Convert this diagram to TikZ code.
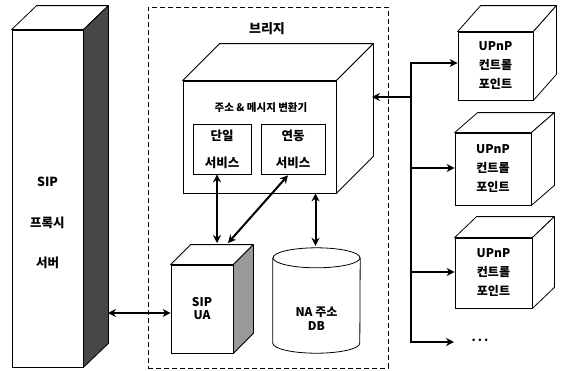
\documentclass[tikz,border=0pt]{standalone}
\usepackage{fontspec}
\setmainfont{Noto Sans CJK KR}
\usetikzlibrary{calc,arrows.meta}
\newcommand\cubefaces[4]{%
  \draw[line width=0.8pt, fill=white, line join=round] (#1.north west) -- ++(#2,#3) -- ($(#1.north east)+(#2,#3)$) -- (#1.north east) -- cycle;
  \draw[line width=0.8pt, fill=#4, line join=round] (#1.north east) -- ++(#2,#3) -- ($(#1.south east)+(#2,#3)$) -- (#1.south east) -- cycle;}
\begin{document}
\begin{tikzpicture}[x=1pt,y=-1pt,
  face/.style={draw, line width=0.8pt, fill=white, inner sep=0pt},
  inbox/.style={draw, line width=0.6pt, inner sep=0pt, minimum height=50pt, align=center,
     font=\bfseries\fontsize{12.5}{27}\selectfont},
  arr/.style={line width=2pt, -{Stealth[length=8pt,width=8pt]}},
  darr/.style={line width=2pt, {Stealth[length=8pt,width=8pt]}-{Stealth[length=8pt,width=8pt]}},
  bus/.style={line width=2.6pt, -{Stealth[length=8pt,width=8pt]}, line join=miter},
  lbl/.style={align=center, inner sep=0pt},
  upnp/.style={face, align=center, font=\bfseries\fontsize{12}{19}\selectfont}]
\useasboundingbox (0,0) rectangle (565,370);

% bridge dashed frame
\node[draw, dash pattern=on 5pt off 3pt, line width=1pt, minimum width=240pt, minimum height=361pt, inner sep=0pt] (bridge) at (268,187.5) {};
\node[lbl, font=\bfseries\fontsize{13}{14}\selectfont] (bridgelbl) at (267,29) {브리지};

% SIP proxy server
\node[face, minimum width=71pt, minimum height=337pt] (sip) at (47.5,198.5) {};
\cubefaces{sip}{25}{-24}{black!72}
\node[lbl, font=\bfseries\fontsize{12.5}{40.5}\selectfont] (siptxt) at (47.5,223) {SIP\\프록시\\서버};

% converter
\node[face, minimum width=153pt, minimum height=112pt] (conv) at (259.5,137) {};
\cubefaces{conv}{37}{-37}{white}
\node[lbl, font=\bfseries\fontsize{10.5}{12}\selectfont] (convtitle) at (261,108) {주소 \& 메시지 변환기};
\node[inbox, minimum width=58pt] (b1) at (222,149) {단일\\서비스};
\node[inbox, minimum width=64pt] (b2) at (293,149) {연동\\서비스};

% SIP UA
\node[face, minimum width=62pt, minimum height=88pt, align=center,
      font=\bfseries\fontsize{12}{13}\selectfont] (sua) at (202,309) {SIP\\UA};
\cubefaces{sua}{20}{-20}{black!40}

% NA address DB
\node[inner sep=0pt, minimum width=87pt, minimum height=85pt] (db) at (316.5,300.5) {};
\draw[line width=0.8pt, fill=white] (db.north west) -- (db.south west)
   arc[start angle=180, end angle=360, x radius=43.5pt, y radius=10pt] -- (db.north east);
\draw[line width=0.8pt, fill=white] (db.north) ellipse[x radius=43.5pt, y radius=10pt];
\node[lbl, font=\bfseries\fontsize{12}{14}\selectfont] (dbtxt) at (316.5,319) {NA 주소\\DB};

% UPnP control points
\node[upnp, minimum width=75pt, minimum height=68pt] (u1) at (495.5,66) {UPnP\\컨트롤\\포인트};
\cubefaces{u1}{23}{-26}{white}
\node[upnp, minimum width=76pt, minimum height=72pt] (u2) at (493,169) {UPnP\\컨트롤\\포인트};
\cubefaces{u2}{23}{-20}{white}
\node[upnp, minimum width=77pt, minimum height=70pt] (u3) at (493.5,273) {UPnP\\컨트롤\\포인트};
\cubefaces{u3}{22}{-21}{white}
\node[lbl, font=\bfseries\fontsize{12}{13}\selectfont] (dots) at (480,340) {.\,.\,.};

% coordinates for connector ends
\coordinate (sipside) at (108,313);
\coordinate (suatop) at (217,243);
\coordinate (suatop2) at (228,243);
\coordinate (convside) at (372,97);
\coordinate (bt) at (411,63);
\coordinate (bb) at (411,342);
\coordinate (jc) at (411,97);
\coordinate (j2) at (411,168);
\coordinate (j3) at (411,272);
\coordinate (dotsend) at (454,342);

% connectors inside bridge
\draw[darr] (sipside) -- (sipside -| sua.west);
\draw[darr] ([xshift=-5pt]b1.south) -- (suatop);
\draw[darr] ([xshift=-5pt,yshift=-1pt]b2.south) -- (suatop2);
\draw[darr] ([xshift=56pt]conv.south) -- ([xshift=-1pt,yshift=12pt]db.north);

% bus on the right
\draw[bus] (bb) -- (bt) -- (bt -| u1.west);
\draw[bus] (bt) -- (bb) -- (dotsend);
\draw[bus] (jc) -- (convside);
\draw[bus] (j2) -- (j2 -| u2.west);
\draw[bus] (j3) -- (j3 -| u3.west);
\end{tikzpicture}
\end{document}
